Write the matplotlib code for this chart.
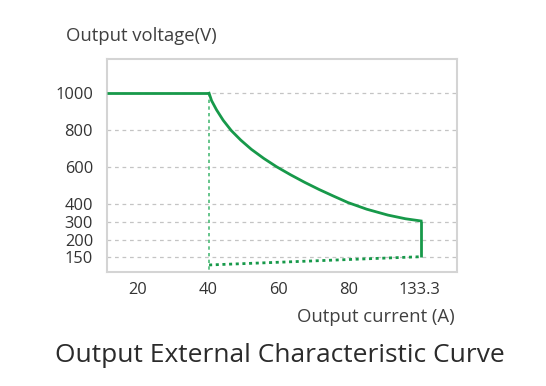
import matplotlib
matplotlib.use("Agg")
import matplotlib.pyplot as plt

plt.rcParams['font.family'] = ['Open Sans', 'DejaVu Sans']

# Axis tick positions and labels (labels are non-linear on the chart)
x_tick_pos = [20, 40, 60, 80, 100.0]
x_tick_labels = ['20', '40', '60', '80', '133.3']
y_tick_pos = [1000, 800, 600, 400, 300, 200, 109]
y_tick_labels = ['1000', '800', '600', '400', '300', '200', '150']

# Constant-voltage segment
cv_x = [11.35, 40.3]
cv_y = [1000, 1000]

# Constant-power curve
cp_x = [40.3, 41.0, 42.4, 44.3, 46.6, 49.3, 52.3, 55.8, 59.4, 63.4, 67.4, 71.5, 75.6, 79.7, 85.0, 91.0, 96.0, 100.4]
cp_y = [1000, 960, 910, 853, 797, 745, 695, 646, 601, 557, 516, 477, 441, 406, 370, 338, 318, 306]

# Vertical drop at max current
drop_x = [100.4, 100.4]
drop_y = [306, 112]

# Lower dotted line
low_x = [40.3, 100.4]
low_y = [67, 112]

# Vertical dotted line at 40 A
vline_x = [40.3, 40.3]
vline_y = [1000, 28.8]

green = '#17994a'
light_green = '#4dbb78'

fig = plt.figure(figsize=(5.46, 3.86), dpi=100)
ax = fig.add_axes([107/546, 1-272/386, (457-107)/546, (272-59)/386])

ax.set_xlim(11.35, 110.6)
ax.set_ylim(28.8, 1186)

for y in y_tick_pos:
    ax.axhline(y, color='#c4c4c4', lw=0.9, ls=(0, (3, 3)), zorder=1)

ax.plot(cv_x, cv_y, color=green, lw=2.0, solid_capstyle='butt', zorder=3)
ax.plot(cp_x, cp_y, color=green, lw=2.0, solid_joinstyle='round', zorder=3)
ax.plot(drop_x, drop_y, color=green, lw=2.0, solid_capstyle='butt', zorder=3)
ax.plot(low_x, low_y, color=green, lw=2.0, ls=(0, (1.1, 1.3)), zorder=3)
ax.plot(vline_x, vline_y, color=light_green, lw=1.2, ls=(0, (2, 2)), zorder=2)

ax.set_xticks(x_tick_pos)
ax.set_xticklabels(x_tick_labels)
ax.set_yticks(y_tick_pos)
ax.set_yticklabels(y_tick_labels)
ax.tick_params(axis='both', length=0, labelsize=11.8, labelcolor='#333333')
ax.tick_params(axis='x', pad=7)
ax.tick_params(axis='y', pad=10)

for s in ax.spines.values():
    s.set_color('#d4d4d4')
    s.set_linewidth(1.5)

fig.text(66/546, 1-40.7/386, 'Output voltage(V)', ha='left', va='baseline',
         fontsize=13.3, color='#404040')
fig.text(455/546, 1-322/386, 'Output current (A)', ha='right', va='baseline',
         fontsize=13.3, color='#404040')
fig.text(280/546, 1-362/386, 'Output External Characteristic Curve', ha='center',
         va='baseline', fontsize=19, color='#2b2b2b')

fig.savefig('out.png', dpi=100)
